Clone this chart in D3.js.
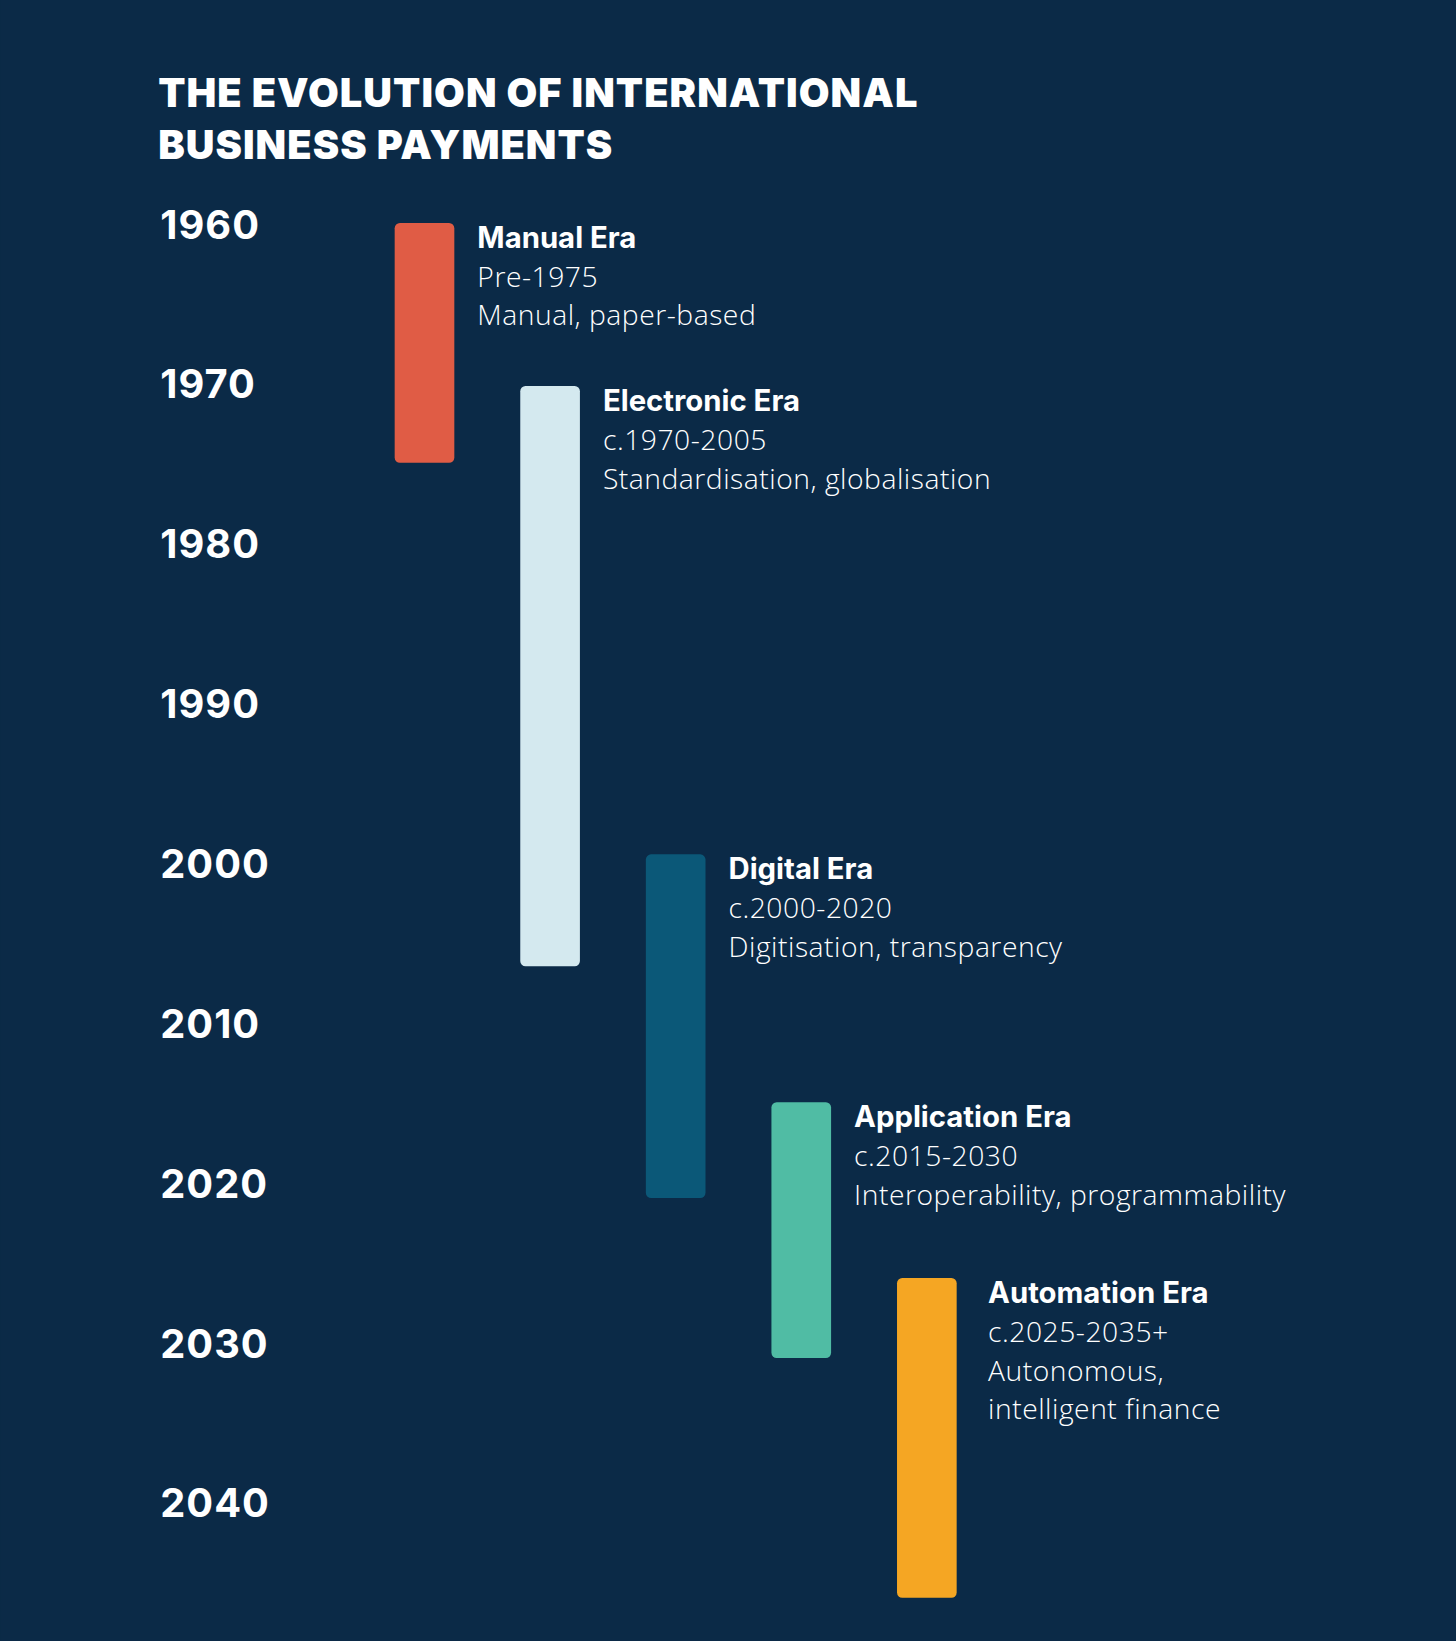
<!DOCTYPE html>
<html><head><meta charset="utf-8">
<script src="https://cdn.jsdelivr.net/npm/d3@7"></script>
<style>body{margin:0;background:#0b2a47}</style>
</head><body>
<script>
var years = [1960, 1970, 1980, 1990, 2000, 2010, 2020, 2030, 2040];
var eras = ["Manual Era", "Electronic Era", "Digital Era", "Application Era", "Automation Era"];
var starts = [1960, 1970.2, 1999.5, 2015, 2026];
var ends = [1975, 2006.5, 2021, 2031, 2046];
var periods = ["Pre-1975", "c.1970-2005", "c.2000-2020", "c.2015-2030", "c.2025-2035+"];
var notes = [["Manual, paper-based"], ["Standardisation, globalisation"], ["Digitisation, transparency"],
  ["Interoperability, programmability"], ["Autonomous,", "intelligent finance"]];
var colors = ["#e05c45", "#d4e9ef", "#0b5878", "#50bca4", "#f5a623"];

var W = 1391, H = 1568;
var svg = d3.select("body").append("svg")
  .attr("width", 1456).attr("height", 1641)
  .attr("viewBox", "0 0 " + W + " " + H);
svg.append("rect").attr("width", W).attr("height", H).attr("fill", "#0b2a47");

svg.append("text").attr("x", 151).attr("y", 102)
  .attr("fill", "#fff").attr("font-family", "Inter, sans-serif").attr("font-weight", 900)
  .attr("font-size", 38).attr("letter-spacing", 1)
  .selectAll("tspan").data(["THE EVOLUTION OF INTERNATIONAL", "BUSINESS PAYMENTS"]).enter()
  .append("tspan").attr("x", 151).attr("dy", function(d, i){ return i ? 50 : 0; }).text(function(d){ return d; });

var y = d3.scaleLinear().domain([1960, 2040]).range([213, 1435]);
// step 120, bar width 57
var x = d3.scaleBand().domain(eras).range([377, 914]).paddingInner(63 / 120).paddingOuter(0);

svg.selectAll(".yr").data(years).enter().append("text")
  .attr("x", 153).attr("y", function(d){ return y(d) + 15; })
  .attr("fill", "#fff").attr("font-family", "Inter, sans-serif").attr("font-weight", 700)
  .attr("font-size", 38).attr("letter-spacing", 1).text(function(d){ return d; });

var g = svg.selectAll(".era").data(eras).enter().append("g");
g.append("rect")
  .attr("x", function(d){ return x(d); })
  .attr("y", function(d, i){ return y(starts[i]); })
  .attr("width", x.bandwidth())
  .attr("height", function(d, i){ return y(ends[i]) - y(starts[i]); })
  .attr("rx", 5).attr("fill", function(d, i){ return colors[i]; });

var t = g.append("text")
  .attr("fill", "#fff").attr("font-family", "'Open Sans', sans-serif").attr("font-size", 27)
  .attr("y", function(d, i){ return y(starts[i]) + 24; });
t.each(function(d, i){
  var tx = x(d) + x.bandwidth() + 22 + (i == 4 ? 8 : 0);
  var el = d3.select(this);
  el.append("tspan").attr("x", tx).attr("font-weight", 700).attr("font-family", "Inter, sans-serif").attr("font-size", 28).text(d);
  el.append("tspan").attr("x", tx).attr("dy", 37).attr("font-weight", 300).attr("letter-spacing", 0.5).text(periods[i]);
  notes[i].forEach(function(n){
    el.append("tspan").attr("x", tx).attr("dy", 37).attr("font-weight", 300).attr("letter-spacing", 0.5).text(n);
  });
});
</script>
</body></html>
